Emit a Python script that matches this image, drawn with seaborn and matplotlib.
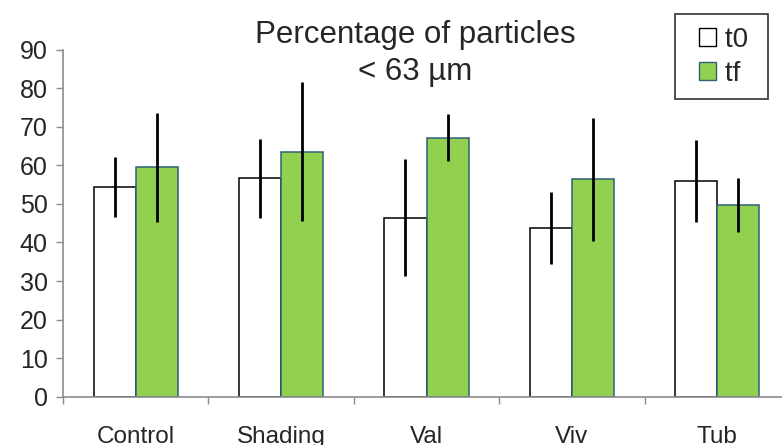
import pandas as pd
import matplotlib
matplotlib.use("Agg")
import matplotlib.pyplot as plt
import seaborn as sns
from matplotlib.patches import Patch, Rectangle
from matplotlib.legend_handler import HandlerPatch

# ====== Data ======
categories = ["Control", "Shading", "Val", "Viv", "Tub"]
t0_values = [54.4, 56.6, 46.4, 43.8, 56.0]
tf_values = [59.5, 63.5, 67.2, 56.4, 49.6]
t0_err = [7.8, 10.3, 15.2, 9.3, 10.7]
tf_err = [14.2, 18.0, 6.0, 15.9, 7.0]
series = ["t0", "tf"]

GREEN = "#92D050"
GREEN_EDGE = "#2E6078"


def build_dataframe():
    rows = []
    for name, vals, errs in (("t0", t0_values, t0_err), ("tf", tf_values, tf_err)):
        for cat, v, e in zip(categories, vals, errs):
            rows.append({"category": cat, "series": name, "value": v, "err": e})
    return pd.DataFrame(rows)


def right_square(legend, orig_handle, xdescent, ydescent, width, height, fontsize):
    """Квадратный маркер легенды, прижатый к правому краю."""
    size = height
    return Rectangle((-xdescent + width - size, -ydescent), size, size)


def main():
    df = build_dataframe()

    sns.set_theme(style="white")
    plt.rcParams["font.family"] = ["Liberation Sans", "DejaVu Sans"]

    fig = plt.figure(figsize=(7.82, 4.45), dpi=100)
    ax = fig.add_axes([0.0806, 0.1085, 0.9296, 0.7798])

    sns.barplot(
        data=df, x="category", y="value", hue="series",
        order=categories, hue_order=series,
        palette=["white", GREEN], saturation=1, width=0.58,
        errorbar=None, legend=False, ax=ax,
    )

    # edges + error bars per series
    for container, name in zip(ax.containers, series):
        sub = df[df["series"] == name].set_index("category").loc[categories]
        edge = "black" if name == "t0" else GREEN_EDGE
        xs = []
        for patch in container:
            patch.set_edgecolor(edge)
            patch.set_linewidth(1.1)
            xs.append(patch.get_x() + patch.get_width() / 2)
        ax.errorbar(xs, sub["value"], yerr=sub["err"], fmt="none",
                    ecolor="black", elinewidth=2.0, capsize=0, zorder=5)

    ax.set_xlim(-0.5, len(categories) - 0.5)
    ax.set_ylim(0, 90)
    ax.set_yticks(range(0, 91, 10))
    ax.set_xlabel("")
    ax.set_ylabel("")

    # ticks between groups, labels at group centres
    ax.set_xticks([i - 0.5 for i in range(len(categories) + 1)])
    ax.set_xticklabels([])
    ax.set_xticks(range(len(categories)), minor=True)
    ax.set_xticklabels(categories, minor=True, fontsize=17.5)
    ax.tick_params(axis="x", which="minor", length=0, pad=21)
    ax.tick_params(axis="x", which="major", length=5, width=1, color="#8c8c8c",
                   direction="out", bottom=True)
    ax.tick_params(axis="y", length=5, width=1, color="#8c8c8c",
                   direction="out", left=True, labelsize=18, pad=6)

    for side in ("top", "right"):
        ax.spines[side].set_visible(False)
    for side in ("left", "bottom"):
        ax.spines[side].set_color("#8c8c8c")
        ax.spines[side].set_linewidth(1.2)

    fig.text(0.531, 0.955, "Percentage of particles\n< 63 µm", ha="center",
             va="top", fontsize=22.5, linespacing=1.3)

    handles = [Patch(facecolor="white", edgecolor="black", label="t0"),
               Patch(facecolor=GREEN, edgecolor=GREEN_EDGE, label="tf")]
    leg = fig.legend(handles=handles, loc="upper right",
                     bbox_to_anchor=(0.982, 0.9685), fontsize=20,
                     frameon=True, fancybox=False, handlelength=1.05,
                     handleheight=0.6, handletextpad=0.3,
                     borderpad=0.45, labelspacing=0.3, borderaxespad=0,
                     handler_map={Patch: HandlerPatch(patch_func=right_square)})
    for text in leg.get_texts():
        text.set_text(text.get_text() + " ")
    leg.get_frame().set_edgecolor("black")
    leg.get_frame().set_linewidth(1.2)

    fig.savefig("out.png", dpi=100)


if __name__ == "__main__":
    main()
